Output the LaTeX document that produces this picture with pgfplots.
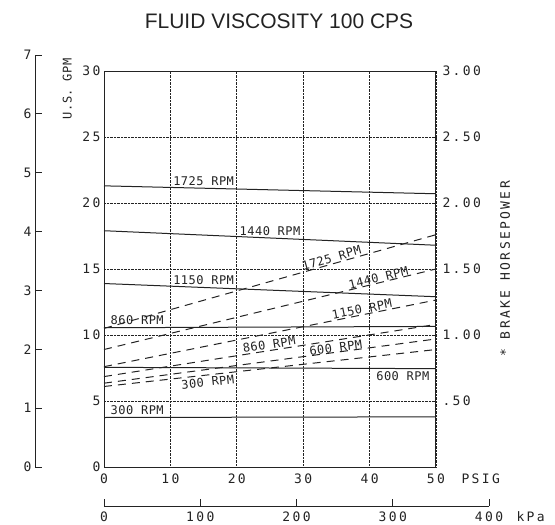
\documentclass[border=0pt]{standalone}
\usepackage{pgfplots}
\pgfplotsset{compat=1.18}
\usepackage{fontspec}
\setmainfont{Liberation Sans}
\newfontfamily\tickfam[LetterSpace=18]{DejaVu Sans Mono}
\newfontfamily\rpmfam[LetterSpace=4]{DejaVu Sans Mono}
\newcommand\tickfont{\tickfam\fontsize{13}{15}\selectfont}
\newcommand\rpmfont{\rpmfam\fontsize{12}{14}\selectfont}
\definecolor{ink}{RGB}{35,35,35}

\tikzset{lab/.style={font=\rpmfont, text=ink}}
\pgfplotsset{
  base/.style={
    scale only axis,
    /pgf/number format/assume math mode=true,
    tick label style={font=\tickfont, text=ink},
    axis line style={line width=1pt, ink},
    every tick/.style={line width=0.9pt, ink},
  },
  solidrpm/.style={ink, line width=1pt},
  dashrpm/.style={ink, line width=1pt, dash pattern=on 8pt off 6pt},
}

\begin{document}
\begin{tikzpicture}
\useasboundingbox (0,0) rectangle (555pt,-525pt);

\node[font=\fontsize{21}{24}\selectfont, text=ink] at (279pt,-21pt) {FLUID VISCOSITY 100 CPS};

% m3/h scale on the far left
\begin{axis}[base,
  at={(35pt,-467pt)}, anchor=south west,
  width=10pt, height=412pt,
  xmin=0, xmax=1, ymin=0, ymax=7,
  hide x axis, axis y line*=left,
  ytick={0,1,...,7},
  tick align=inside, major tick length=7pt,
]
\addplot[draw=none] coordinates {(0,0)};
\end{axis}

% main chart
\begin{axis}[base,
  at={(104pt,-467pt)}, anchor=south west,
  width=332pt, height=396pt,
  xmin=0, xmax=50, ymin=0, ymax=30,
  xtick={0,10,...,50}, ytick={0,5,...,30},
  grid=major, grid style={densely dotted, ink, line width=0.7pt},
  major tick length=0pt,
  xticklabel style={yshift=-3pt},
  xlabel={PSIG},
  xlabel style={font=\tickfont, text=ink, at={(axis description cs:1,0)}, anchor=north west, xshift=22pt, yshift=-3pt},
  ylabel={U.S. GPM},
  ylabel style={font=\rpmfont, text=ink, at={(axis description cs:-0.111,0.955)}, anchor=center},
  clip=false,
]
% flow (solid)
\addplot[solidrpm] coordinates {(0,21.3) (50,20.7)} node[lab, pos=0.3, above, inner sep=2pt] {1725 RPM};
\addplot[solidrpm] coordinates {(0,17.9) (50,16.8)} node[lab, pos=0.5, above, inner sep=2pt] {1440 RPM};
\addplot[solidrpm] coordinates {(0,13.9) (50,12.9)} node[lab, pos=0.3, above, inner sep=2pt] {1150 RPM};
\addplot[solidrpm] coordinates {(0,10.55) (50,10.65)} node[lab, pos=0.1, above, inner sep=2pt] {860 RPM};
\addplot[solidrpm] coordinates {(0,7.55) (50,7.45)} node[lab, pos=0.9, below, inner sep=3pt] {600 RPM};
\addplot[solidrpm] coordinates {(0,3.75) (50,3.8)} node[lab, pos=0.1, above, inner sep=2pt] {300 RPM};
% brake horsepower x10 (dashed)
\addplot[dashrpm] coordinates {(0,10.5) (50,17.6)} node[lab, pos=0.69, sloped, above, inner sep=1pt] {1725 RPM};
\addplot[dashrpm] coordinates {(0,8.9) (50,15.0)} node[lab, pos=0.83, sloped, above, inner sep=0pt] {1440 RPM};
\addplot[dashrpm] coordinates {(0,7.6) (50,12.65)} node[lab, pos=0.78, sloped, above, inner sep=0.5pt] {1150 RPM};
\addplot[dashrpm] coordinates {(0,6.85) (50,10.8)} node[lab, pos=0.5, sloped, above, inner sep=1pt] {860 RPM};
\addplot[dashrpm] coordinates {(0,6.35) (50,9.7)} node[lab, pos=0.7, sloped, above, inner sep=0pt] {600 RPM};
\addplot[dashrpm] coordinates {(0,6.1) (50,8.9)} node[lab, pos=0.31, sloped, below, inner sep=2pt] {300 RPM};
\end{axis}

% brake horsepower scale on the right
\begin{axis}[base,
  at={(104pt,-467pt)}, anchor=south west,
  width=332pt, height=396pt,
  xmin=0, xmax=50, ymin=0, ymax=3,
  hide x axis, axis y line*=right,
  ytick={0.5,1,1.5,2,2.5,3},
  yticklabels={.50,1.00,1.50,2.00,2.50,3.00},
  yticklabel style={anchor=west, xshift=3pt},
  major tick length=0pt,
  ylabel={* BRAKE HORSEPOWER},
  ylabel style={font=\tickfont, text=ink, at={(axis description cs:1.208,0.5)}, anchor=center},
]
\addplot[draw=none] coordinates {(0,0)};
\end{axis}

% kPa scale below
\begin{axis}[base,
  at={(104pt,-506pt)}, anchor=south west,
  width=385pt, height=10pt,
  xmin=0, xmax=400, ymin=0, ymax=1,
  hide y axis, axis x line*=bottom,
  xtick={0,100,...,400},
  tick align=inside, major tick length=7pt,
  xticklabel style={yshift=-2pt},
  xlabel={kPa},
  xlabel style={font=\tickfont, text=ink, at={(axis description cs:1,0)}, anchor=north west, xshift=24pt, yshift=-2pt},
]
\addplot[draw=none] coordinates {(0,0)};
\end{axis}
\end{tikzpicture}
\end{document}
